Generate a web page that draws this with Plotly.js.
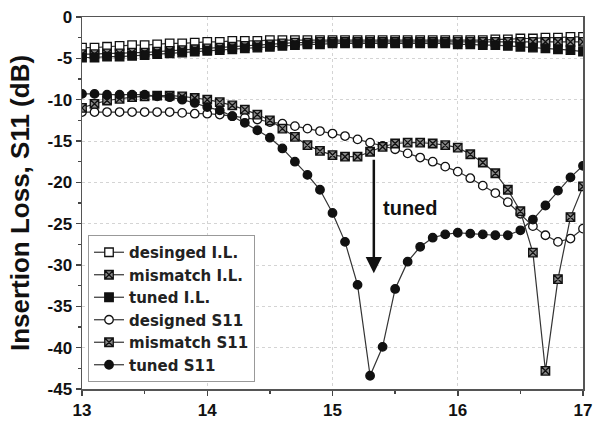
<!DOCTYPE html>
<html>
<head>
<meta charset="utf-8">
<script src="https://cdn.plot.ly/plotly-3.0.1.min.js"></script>
<style>html,body{margin:0;padding:0;background:#fff;}#chart{width:593px;height:424px;}</style>
</head>
<body>
<div id="chart"></div>
<script>
// Frequency (GHz)
const freq = [13.0,13.1,13.2,13.3,13.4,13.5,13.6,13.7,13.8,13.9,
              14.0,14.1,14.2,14.3,14.4,14.5,14.6,14.7,14.8,14.9,
              15.0,15.1,15.2,15.3,15.4,15.5,15.6,15.7,15.8,15.9,
              16.0,16.1,16.2,16.3,16.4,16.5,16.6,16.7,16.8,16.9,17.0];

const designedIL = [-3.7,-3.7,-3.6,-3.5,-3.4,-3.4,-3.3,-3.2,-3.2,-3.1,
                    -3.0,-3.0,-2.9,-2.9,-2.9,-2.8,-2.8,-2.8,-2.8,-2.8,
                    -2.8,-2.8,-2.8,-2.8,-2.8,-2.8,-2.8,-2.8,-2.8,-2.8,
                    -2.8,-2.8,-2.8,-2.7,-2.7,-2.6,-2.6,-2.5,-2.5,-2.4,-2.4];

const mismatchIL = [-4.5,-4.5,-4.4,-4.4,-4.3,-4.3,-4.2,-4.1,-4.0,-3.9,
                    -3.8,-3.7,-3.6,-3.5,-3.4,-3.3,-3.2,-3.1,-3.1,-3.0,
                    -3.0,-3.0,-3.0,-3.0,-3.0,-3.0,-3.0,-3.0,-3.0,-3.0,
                    -3.0,-3.0,-3.0,-3.0,-3.0,-3.0,-3.0,-3.0,-3.0,-3.0,-3.0];

const tunedIL = [-4.9,-4.9,-4.8,-4.8,-4.7,-4.6,-4.5,-4.4,-4.3,-4.2,
                 -4.1,-4.0,-3.9,-3.8,-3.7,-3.6,-3.5,-3.4,-3.3,-3.3,
                 -3.2,-3.2,-3.2,-3.2,-3.2,-3.2,-3.2,-3.2,-3.2,-3.2,
                 -3.3,-3.3,-3.4,-3.4,-3.5,-3.6,-3.7,-3.8,-3.9,-4.0,-4.2];

const designedS11 = [-11.5,-11.5,-11.5,-11.5,-11.5,-11.5,-11.5,-11.5,-11.6,-11.7,
                     -11.7,-11.8,-12.0,-12.2,-12.4,-12.7,-12.9,-13.2,-13.5,-13.8,
                     -14.1,-14.4,-14.8,-15.2,-15.6,-16.0,-16.5,-17.0,-17.5,-18.1,
                     -18.7,-19.5,-20.4,-21.3,-22.4,-23.8,-25.3,-26.4,-27.2,-26.8,-25.6];

const mismatchS11 = [-11.0,-10.5,-10.1,-9.9,-9.7,-9.6,-9.5,-9.5,-9.6,-9.8,
                     -10.0,-10.3,-10.7,-11.2,-11.8,-12.5,-13.5,-14.5,-15.5,-16.2,
                     -16.7,-16.9,-16.9,-16.3,-15.7,-15.3,-15.2,-15.2,-15.3,-15.5,
                     -15.8,-16.6,-17.6,-18.9,-20.9,-23.5,-28.5,-42.8,-31.7,-24.2,-20.5];

const tunedS11 = [-9.3,-9.3,-9.4,-9.4,-9.4,-9.4,-9.6,-9.7,-10.0,-10.4,
                  -10.9,-11.3,-12.0,-12.8,-13.7,-14.6,-15.9,-17.5,-19.1,-20.9,
                  -23.7,-27.2,-32.4,-43.4,-39.9,-32.9,-29.6,-27.8,-26.7,-26.3,
                  -26.1,-26.2,-26.3,-26.4,-26.4,-25.8,-24.5,-22.8,-21.0,-19.4,-18.0];

const seriesNames = ['desinged I.L.','mismatch I.L.','tuned I.L.','designed S11','mismatch S11','tuned S11'];
const xTicks = [13,14,15,16,17];
const yTicks = [0,-5,-10,-15,-20,-25,-30,-35,-40,-45];

const lineStyle = {color:'#333', width:1.2};
function mk(symbol, fill){ return {symbol:symbol, size:8.5, color:fill, line:{color:'#111', width:1.3}}; }

const traces = [
  {x:freq, y:designedIL, name:seriesNames[0], mode:'lines+markers', line:lineStyle, marker:mk('square','#fff')},
  {x:freq, y:mismatchIL, name:seriesNames[1], mode:'lines+markers', line:lineStyle, marker:mk('square-x','#888')},
  {x:freq, y:tunedIL, name:seriesNames[2], mode:'lines+markers', line:lineStyle, marker:mk('square','#111')},
  {x:freq, y:designedS11, name:seriesNames[3], mode:'lines+markers', line:lineStyle, marker:mk('circle','#fff')},
  {x:freq, y:mismatchS11, name:seriesNames[4], mode:'lines+markers', line:lineStyle, marker:mk('square-x','#888')},
  {x:freq, y:tunedS11, name:seriesNames[5], mode:'lines+markers', line:lineStyle, marker:mk('circle','#111')}
];

const tickFont = {family:'Liberation Sans, Arial, sans-serif', size:17, color:'#111', weight:'bold'};

const layout = {
  width:593, height:424,
  margin:{l:82, r:10, t:17, b:35},
  paper_bgcolor:'#fff', plot_bgcolor:'#fff',
  showlegend:true,
  font:{family:'Liberation Sans, Arial, sans-serif', color:'#111'},
  xaxis:{
    range:[13,17], tickvals:xTicks, ticktext:xTicks.map(String),
    ticks:'outside', ticklen:5, tickwidth:1.5, tickcolor:'#444',
    minor:{dtick:0.5, ticks:'outside', ticklen:3, tickcolor:'#444', showgrid:false},
    showline:true, mirror:true, linecolor:'#555', linewidth:1.5,
    showgrid:true, gridcolor:'#d4d4d4', griddash:'dot', gridwidth:1,
    zeroline:false, tickfont:tickFont
  },
  yaxis:{
    range:[-45,0], tickvals:yTicks, ticktext:yTicks.map(String),
    ticks:'outside', ticklen:5, tickwidth:1.5, tickcolor:'#444',
    minor:{dtick:2.5, ticks:'outside', ticklen:3, tickcolor:'#444', showgrid:false},
    showline:true, mirror:true, linecolor:'#555', linewidth:1.5,
    showgrid:true, gridcolor:'#d4d4d4', griddash:'dot', gridwidth:1,
    zeroline:false, tickfont:tickFont,
    title:{text:'Insertion Loss, S11 (dB)', font:{family:'Liberation Sans, Arial, sans-serif', size:26, weight:'bold', color:'#111'}, standoff:10}
  },
  legend:{
    x:0.012, y:0.414, xanchor:'left', yanchor:'top',
    bgcolor:'#fff', bordercolor:'#999', borderwidth:1,
    font:{family:'DejaVu Sans, Liberation Sans, sans-serif', size:15, color:'#222', weight:'bold'},
    tracegroupgap:0
  },
  annotations:[
    {x:15.33, y:-31.0, ax:15.33, ay:-17.1, xref:'x', yref:'y', axref:'x', ayref:'y',
     text:'', showarrow:true, arrowhead:2, arrowwidth:2.5, arrowsize:1.3, arrowcolor:'#111'},
    {x:15.62, y:-23.1, xref:'x', yref:'y', text:'<b>tuned</b>', showarrow:false,
     font:{family:'Liberation Sans, Arial, sans-serif', size:20, color:'#111'}}
  ]
};

Plotly.newPlot('chart', traces, layout, {displayModeBar:false, staticPlot:true});
</script>
</body>
</html>
